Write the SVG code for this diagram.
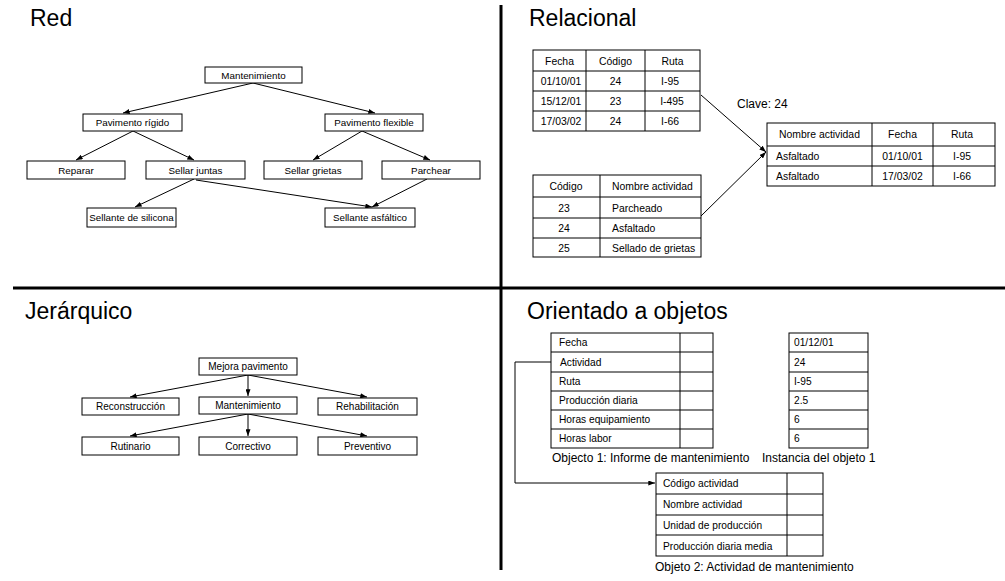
<svg xmlns="http://www.w3.org/2000/svg" width="1005" height="581" viewBox="0 0 1005 581">
<defs>
<style>
text{font-family:"Liberation Sans",Arial,sans-serif;fill:#000}
.t{font-size:23px}
.r{font-size:9.8px;text-anchor:middle}
.h{font-size:10px;text-anchor:middle}
.q{font-size:10.4px}
.qc{font-size:10.4px;text-anchor:middle}
.o{font-size:10.2px}
.cap{font-size:12px}
rect{fill:#fff;stroke:#000;stroke-width:1}
.ln{stroke:#000;stroke-width:1;fill:none}
.div{stroke:#000;stroke-width:3}
</style>
<marker id="ar" viewBox="0 0 8 6" refX="8" refY="3" markerWidth="7" markerHeight="5" markerUnits="userSpaceOnUse" orient="auto"><path d="M0,0 L8,3 L0,6 z" fill="#000"/></marker>
</defs>
<rect x="0" y="0" width="1005" height="581" style="stroke:none;fill:#fff"/>
<g id="dividers">
<line class="div" x1="501" y1="5" x2="501" y2="570"/>
<line class="div" x1="13" y1="288" x2="1005" y2="288"/>
</g>
<g id="titles">
<text class="t" x="30" y="26">Red</text>
<text class="t" x="529" y="26">Relacional</text>
<text class="t" x="25" y="319">Jerárquico</text>
<text class="t" x="527" y="319">Orientado a objetos</text>
</g>
<g id="connectors">
<g marker-end="url(#ar)" class="ln">
<line x1="253" y1="83" x2="123" y2="113"/>
<line x1="253" y1="83" x2="375" y2="113"/>
<line x1="133" y1="131" x2="76" y2="160"/>
<line x1="133" y1="131" x2="194" y2="160"/>
<line x1="362" y1="131" x2="313" y2="160"/>
<line x1="362" y1="131" x2="430" y2="160"/>
<line x1="194" y1="179" x2="135" y2="207"/>
<line x1="196" y1="180" x2="372" y2="207"/>
<line x1="427" y1="179" x2="372" y2="207"/>
<line x1="701" y1="95" x2="766" y2="152"/>
<line x1="701" y1="216" x2="766" y2="152"/>
<line x1="248" y1="375" x2="130" y2="397"/>
<line x1="248" y1="375" x2="248" y2="396"/>
<line x1="248" y1="375" x2="367" y2="397"/>
<line x1="248" y1="414" x2="130" y2="436"/>
<line x1="248" y1="414" x2="248" y2="436"/>
<line x1="248" y1="414" x2="367" y2="436"/>
<path d="M551,362 H515 V483 H655"/>
</g>
</g>
<g id="red-mantenimiento"><rect x="205" y="67" width="97" height="16"/><text class="r" x="253.5" y="78.5">Mantenimiento</text></g>
<g id="red-pav-rigido"><rect x="83" y="114" width="99" height="17"/><text class="r" x="132.5" y="126">Pavimento rígido</text></g>
<g id="red-pav-flexible"><rect x="325" y="114" width="98" height="17"/><text class="r" x="374" y="126">Pavimento flexible</text></g>
<g id="red-reparar"><rect x="27" y="161" width="98" height="18"/><text class="r" x="76" y="173.5">Reparar</text></g>
<g id="red-sellar-juntas"><rect x="146" y="161" width="99" height="18"/><text class="r" x="195.5" y="173.5">Sellar juntas</text></g>
<g id="red-sellar-grietas"><rect x="264" y="161" width="98" height="18"/><text class="r" x="313" y="173.5">Sellar grietas</text></g>
<g id="red-parchear"><rect x="382" y="161" width="98" height="18"/><text class="r" x="431" y="173.5">Parchear</text></g>
<g id="red-sellante-silicona"><rect x="87" y="208" width="89" height="19"/><text class="r" x="131.5" y="221">Sellante de silicona</text></g>
<g id="red-sellante-asfaltico"><rect x="325" y="208" width="90" height="19"/><text class="r" x="370" y="221">Sellante asfáltico</text></g>
<g id="rel-tabla1">
<rect x="533" y="50" width="167" height="81"/>
<line class="ln" x1="586" y1="50" x2="586" y2="131"/><line class="ln" x1="645" y1="50" x2="645" y2="131"/>
<line class="ln" x1="533" y1="71" x2="700" y2="71"/><line class="ln" x1="533" y1="91" x2="700" y2="91"/><line class="ln" x1="533" y1="111" x2="700" y2="111"/>
<text class="qc" x="559.5" y="64.5">Fecha</text><text class="qc" x="615.5" y="64.5">Código</text><text class="qc" x="672.5" y="64.5">Ruta</text>
<text class="qc" x="561" y="85">01/10/01</text><text class="qc" x="615.5" y="85">24</text><text class="qc" x="670" y="85">I-95</text>
<text class="qc" x="561" y="105">15/12/01</text><text class="qc" x="615.5" y="105">23</text><text class="qc" x="672" y="105">I-495</text>
<text class="qc" x="561" y="125">17/03/02</text><text class="qc" x="615.5" y="125">24</text><text class="qc" x="670" y="125">I-66</text>
</g>
<g id="rel-tabla2">
<rect x="533" y="175" width="168" height="82"/>
<line class="ln" x1="600" y1="175" x2="600" y2="257"/>
<line class="ln" x1="533" y1="197" x2="701" y2="197"/><line class="ln" x1="533" y1="218" x2="701" y2="218"/><line class="ln" x1="533" y1="238" x2="701" y2="238"/>
<text class="qc" x="566" y="190">Código</text><text class="q" x="612" y="190">Nombre actividad</text>
<text class="qc" x="564" y="211.5">23</text><text class="q" x="612" y="211.5">Parcheado</text>
<text class="qc" x="564" y="232">24</text><text class="q" x="612" y="232">Asfaltado</text>
<text class="qc" x="564" y="251.5">25</text><text class="q" x="612" y="251.5">Sellado de grietas</text>
</g>
<g id="rel-clave"><text class="cap" x="737" y="108">Clave: 24</text></g>
<g id="rel-tabla3">
<rect x="767" y="123" width="228" height="63"/>
<line class="ln" x1="872" y1="123" x2="872" y2="186"/><line class="ln" x1="933" y1="123" x2="933" y2="186"/>
<line class="ln" x1="767" y1="146" x2="995" y2="146"/><line class="ln" x1="767" y1="166" x2="995" y2="166"/>
<text class="qc" x="819.5" y="138">Nombre actividad</text><text class="qc" x="902.5" y="138">Fecha</text><text class="qc" x="962" y="138">Ruta</text>
<text class="q" x="776" y="160">Asfaltado</text><text class="qc" x="902.5" y="160">01/10/01</text><text class="qc" x="962" y="160">I-95</text>
<text class="q" x="776" y="180">Asfaltado</text><text class="qc" x="902.5" y="180">17/03/02</text><text class="qc" x="962" y="180">I-66</text>
</g>
<g id="jer-mejora"><rect x="199" y="358" width="98" height="17"/><text class="h" x="248" y="370">Mejora pavimento</text></g>
<g id="jer-reconstruccion"><rect x="82" y="398" width="97" height="17"/><text class="h" x="130.5" y="410">Reconstrucción</text></g>
<g id="jer-mantenimiento"><rect x="199" y="397" width="98" height="17"/><text class="h" x="248" y="408.5">Mantenimiento</text></g>
<g id="jer-rehabilitacion"><rect x="318" y="398" width="99" height="17"/><text class="h" x="367.5" y="410">Rehabilitación</text></g>
<g id="jer-rutinario"><rect x="82" y="437" width="97" height="18"/><text class="h" x="130.5" y="449.5">Rutinario</text></g>
<g id="jer-correctivo"><rect x="199" y="437" width="98" height="18"/><text class="h" x="248" y="449.5">Correctivo</text></g>
<g id="jer-preventivo"><rect x="318" y="437" width="99" height="18"/><text class="h" x="367.5" y="449.5">Preventivo</text></g>
<g id="oo-objeto1">
<rect x="551" y="333" width="162" height="115"/>
<line class="ln" x1="680" y1="333" x2="680" y2="448"/>
<line class="ln" x1="551" y1="352" x2="713" y2="352"/><line class="ln" x1="551" y1="372" x2="713" y2="372"/><line class="ln" x1="551" y1="391" x2="713" y2="391"/><line class="ln" x1="551" y1="410" x2="713" y2="410"/><line class="ln" x1="551" y1="429" x2="713" y2="429"/>
<text class="o" x="559" y="346">Fecha</text>
<text class="o" x="560" y="365.5">Actividad</text>
<text class="o" x="559" y="385">Ruta</text>
<text class="o" x="559" y="404">Producción diaria</text>
<text class="o" x="559" y="423">Horas equipamiento</text>
<text class="o" x="559" y="442">Horas labor</text>
<text class="cap" x="552" y="462">Objecto 1: Informe de mantenimiento</text>
</g>
<g id="oo-instancia">
<rect x="789" y="333" width="79" height="115"/>
<line class="ln" x1="789" y1="352" x2="868" y2="352"/><line class="ln" x1="789" y1="372" x2="868" y2="372"/><line class="ln" x1="789" y1="391" x2="868" y2="391"/><line class="ln" x1="789" y1="410" x2="868" y2="410"/><line class="ln" x1="789" y1="429" x2="868" y2="429"/>
<text class="o" x="794" y="346">01/12/01</text>
<text class="o" x="794" y="365.5">24</text>
<text class="o" x="794" y="385">I-95</text>
<text class="o" x="794" y="404">2.5</text>
<text class="o" x="794" y="423">6</text>
<text class="o" x="794" y="442">6</text>
<text class="cap" x="762" y="462">Instancia del objeto 1</text>
</g>
<g id="oo-objeto2">
<rect x="656" y="473" width="167" height="83"/>
<line class="ln" x1="787" y1="473" x2="787" y2="556"/>
<line class="ln" x1="656" y1="494" x2="823" y2="494"/><line class="ln" x1="656" y1="515" x2="823" y2="515"/><line class="ln" x1="656" y1="535" x2="823" y2="535"/>
<text class="o" x="663" y="487">Código actividad</text>
<text class="o" x="663" y="508">Nombre actividad</text>
<text class="o" x="663" y="529">Unidad de producción</text>
<text class="o" x="663" y="549.5">Producción diaria media</text>
<text class="cap" x="655" y="571">Objeto 2: Actividad de mantenimiento</text>
</g>
</svg>
